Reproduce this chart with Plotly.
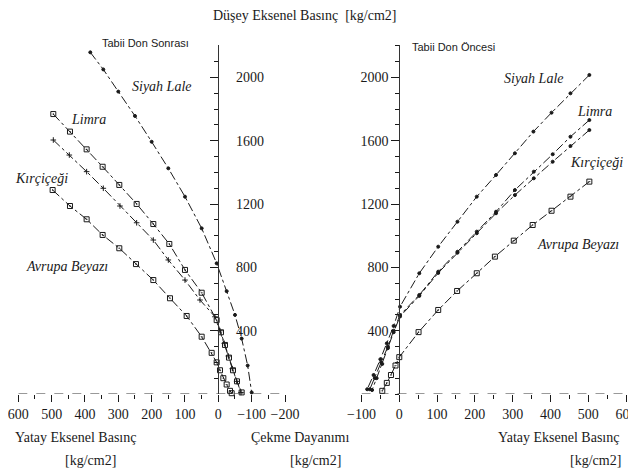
import plotly.graph_objects as go

# ---- Data: Tabii Don Sonrası (left panel) ----
sl_L_x = [384, 345, 300, 250, 200, 150, 100, 50, 5, -25, -50, -70, -88, -100]
sl_L_y = [2159, 2051, 1911, 1757, 1594, 1426, 1247, 1047, 826, 650, 500, 350, 180, 10]

li_L_x = [495, 445, 395, 347, 297, 245, 195, 147, 100, 50, 5, -8, -20, -32, -44, -56, -70]
li_L_y = [1769, 1658, 1546, 1436, 1321, 1201, 1074, 948, 784, 640, 467, 390, 310, 230, 150, 80, 10]

kc_L_x = [495, 447, 395, 345, 295, 245, 195, 150, 100, 55, 10, -5, -18, -30, -42, -55, -68]
kc_L_y = [1605, 1510, 1405, 1300, 1188, 1082, 973, 847, 720, 594, 488, 400, 320, 240, 160, 80, 10]

ab_L_x = [497, 445, 395, 347, 297, 247, 195, 145, 95, 50, 20, 5, -5, -15, -25, -35, -40]
ab_L_y = [1289, 1188, 1104, 1005, 921, 821, 720, 605, 493, 362, 260, 200, 150, 100, 60, 20, 5]

# ---- Data: Tabii Don Öncesi (right panel) ----
sl_R_x = [503, 453, 403, 355, 306, 256, 205, 154, 103, 53, 2, -15, -33, -50, -68, -85]
sl_R_y = [2016, 1900, 1778, 1658, 1521, 1384, 1247, 1089, 931, 763, 552, 430, 320, 220, 120, 30]

li_R_x = [503, 453, 406, 356, 306, 256, 205, 154, 103, 53, 2, -15, -30, -48, -65, -78]
li_R_y = [1731, 1626, 1515, 1405, 1289, 1152, 1026, 899, 773, 626, 499, 400, 300, 200, 100, 30]

kc_R_x = [503, 453, 406, 356, 306, 256, 205, 154, 103, 53, 2, -15, -30, -45, -60, -72]
kc_R_y = [1668, 1567, 1468, 1363, 1257, 1142, 1016, 893, 765, 620, 490, 390, 290, 190, 100, 25]

ab_R_x = [503, 453, 403, 353, 303, 253, 205, 153, 103, 51, 0, -10, -22, -33, -45]
ab_R_y = [1342, 1247, 1158, 1068, 969, 868, 763, 651, 531, 391, 233, 180, 120, 70, 20]

x_tick_vals_L = [600, 500, 400, 300, 200, 100, 0, -100, -200]
x_tick_vals_R = [-100, 0, 100, 200, 300, 400, 500, 600]
y_tick_vals = [400, 800, 1200, 1600, 2000]

# page offset of the plotly div (default body margin)
OFF = 8
W, H = 636 - OFF, 475 - OFF
SERIF = "Liberation Serif"
SANS = "Liberation Sans"
INK = "#1a1a1a"

def px(x):
    return (x - OFF) / W

def py(y):
    return 1 - (y - OFF) / H

fig = go.Figure()

line_style = dict(color=INK, width=1, dash="dashdot")

def add(xs, ys, xa, ya, symbol, size):
    fig.add_trace(go.Scatter(
        x=xs, y=ys, xaxis=xa, yaxis=ya, mode="lines+markers",
        line=line_style,
        marker=dict(symbol=symbol, size=size, color=INK,
                    line=dict(color=INK, width=1)),
        showlegend=False, hoverinfo="skip", cliponaxis=False))

add(sl_L_x, sl_L_y, "x", "y", "circle", 3)
add(li_L_x, li_L_y, "x", "y", "square-open-dot", 5)
add(kc_L_x, kc_L_y, "x", "y", "cross-thin-open", 4)
add(ab_L_x, ab_L_y, "x", "y", "square-open-dot", 5)

add(sl_R_x, sl_R_y, "x2", "y2", "circle", 3)
add(li_R_x, li_R_y, "x2", "y2", "circle", 3)
add(kc_R_x, kc_R_y, "x2", "y2", "circle", 3)
add(ab_R_x, ab_R_y, "x2", "y2", "square-open-dot", 5)

ydom = [py(394), py(45)]
yrange = [0, (394 - 45) / 0.15825]
tickfont = dict(family=SERIF, size=14, color=INK)

common_x = dict(showgrid=False, zeroline=False, showline=False,
                ticks="outside", ticklen=7, tickcolor=INK, tickwidth=1,
                tickfont=tickfont, automargin=False, ticklabeloverflow="allow",
                minor=dict(dtick=50, ticks="outside", ticklen=4, tickcolor=INK))
common_y = dict(showgrid=False, zeroline=False, showline=True, linecolor="#333",
                linewidth=1, range=yrange, domain=ydom, anchor="free",
                tickvals=y_tick_vals, ticklen=8, tickcolor=INK, tickfont=tickfont,
                automargin=False)

fig.update_layout(
    width=W, height=H,
    margin=dict(l=0, r=0, t=0, b=0, autoexpand=False),
    paper_bgcolor="white", plot_bgcolor="white",
    xaxis=dict(domain=[px(18.3), px(285)], range=[600, -200], anchor="y",
               tickvals=x_tick_vals_L, **common_x),
    yaxis=dict(position=px(218.3), side="right", ticks="inside",
               ticklabelstandoff=14, **common_y,
               minor=dict(dtick=100, ticks="inside", ticklen=4, tickcolor=INK)),
    xaxis2=dict(domain=[px(361.5), px(626)], range=[-100, 600], anchor="y2",
                tickvals=x_tick_vals_R, **common_x),
    yaxis2=dict(position=px(399.3), side="left", ticks="outside", **common_y,
                minor=dict(dtick=100, ticks="outside", ticklen=4, tickcolor=INK)),
)

# dashed horizontal axis lines
fig.add_shape(type="line", xref="x", yref="y", x0=600, x1=-200, y0=0, y1=0,
              line=dict(color="#333", width=1, dash="dash"))
fig.add_shape(type="line", xref="x2", yref="y2", x0=-100, x1=600, y0=0, y1=0,
              line=dict(color="#333", width=1, dash="dash"))

def ann(text, x, y, family=SERIF, size=13, italic=False, xanchor="center"):
    if italic:
        text = "<i>" + text + "</i>"
    fig.add_annotation(text=text, x=px(x), y=py(y), xref="paper", yref="paper",
                       showarrow=False, xanchor=xanchor, yanchor="middle",
                       font=dict(family=family, size=size, color=INK))

ann("Düşey Eksenel Basınç  [kg/cm2]", 305, 15, size=14)
ann("Tabii Don Sonrası", 145, 43, family=SANS, size=11)
ann("Tabii Don Öncesi", 410, 47, family=SANS, size=11, xanchor="left")

ann("Siyah Lale", 162, 86, size=14, italic=True)
ann("Limra", 88, 119, size=14, italic=True)
ann("Kırçiçeği", 41, 178, size=14, italic=True)
ann("Avrupa Beyazı", 67, 266, size=14, italic=True)

ann("Siyah Lale", 534, 78, size=14, italic=True)
ann("Limra", 594, 111, size=14, italic=True)
ann("Kırçiçeği", 596, 162, size=14, italic=True)
ann("Avrupa Beyazı", 578, 244, size=14, italic=True)

ann("Yatay Eksenel Basınç", 75, 437, size=14)
ann("[kg/cm2]", 90, 460, size=14)
ann("Çekme Dayanımı", 300, 437, size=14)
ann("[kg/cm2]", 315, 460, size=14)
ann("Yatay Eksenel Basınç", 558, 437, size=14)
ann("[kg/cm2]", 595, 460, size=14)

fig.write_html("out.html")
